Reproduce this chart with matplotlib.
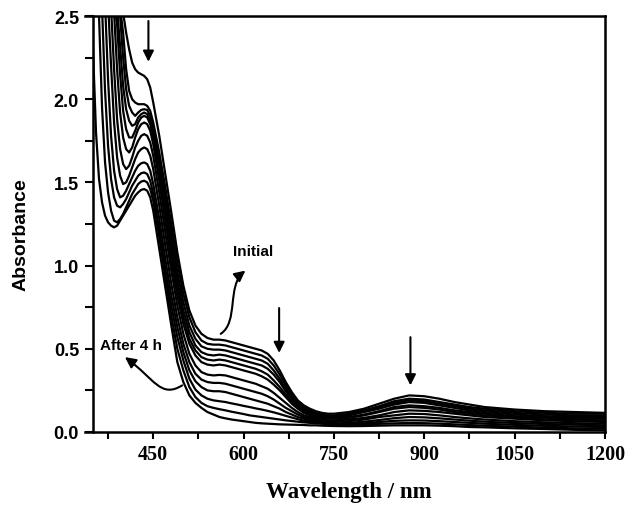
import matplotlib
matplotlib.use("Agg")
import matplotlib.pyplot as plt
from matplotlib.ticker import MultipleLocator, FormatStrFormatter
from matplotlib.patches import FancyArrowPatch
from matplotlib.path import Path

# wavelength grid (nm)
wl = [350, 355, 360, 365, 370, 375, 380, 385, 390, 395, 400, 405, 410, 415, 420, 425, 430, 435, 440, 445,
      450, 460, 470, 480, 490, 500, 510, 520, 530, 540, 550, 560, 570, 580, 590, 600, 610, 620, 630, 640,
      650, 660, 670, 680, 690, 700, 710, 720, 730, 740, 750,
      775, 800, 825, 850, 875, 900, 925, 950, 975, 1000, 1050, 1100, 1150, 1200]

# absorbance, initial spectrum first, "after 4 h" last
s00 = [3.80, 3.60, 3.45, 3.30, 3.15, 3.00, 2.87, 2.76, 2.67, 2.59, 2.52, 2.40, 2.30, 2.22, 2.18, 2.16, 2.15, 2.14, 2.12, 2.07,
       1.98, 1.78, 1.55, 1.32, 1.08, 0.88, 0.73, 0.64, 0.59, 0.565, 0.555, 0.555, 0.55, 0.54, 0.53, 0.52, 0.51, 0.50, 0.49, 0.47,
       0.43, 0.37, 0.30, 0.24, 0.19, 0.16, 0.14, 0.125, 0.115, 0.11, 0.11,
       0.12, 0.14, 0.17, 0.20, 0.22, 0.215, 0.20, 0.18, 0.165, 0.15, 0.135, 0.125, 0.12, 0.115]
s01 = [3.70, 3.55, 3.40, 3.25, 3.10, 2.95, 2.82, 2.71, 2.62, 2.55, 2.40, 2.18, 2.05, 2.00, 1.98, 1.97, 1.97, 1.97, 1.96, 1.93,
       1.86, 1.68, 1.47, 1.25, 1.02, 0.83, 0.69, 0.60, 0.55, 0.53, 0.525, 0.525, 0.52, 0.51, 0.50, 0.49, 0.48, 0.47, 0.46, 0.44,
       0.40, 0.345, 0.28, 0.225, 0.18, 0.15, 0.13, 0.115, 0.105, 0.10, 0.10,
       0.11, 0.13, 0.155, 0.185, 0.20, 0.195, 0.18, 0.165, 0.15, 0.14, 0.125, 0.115, 0.11, 0.11]
s02 = [3.70, 3.50, 3.35, 3.20, 3.05, 2.90, 2.78, 2.67, 2.58, 2.50, 2.25, 2.06, 1.96, 1.92, 1.90, 1.92, 1.935, 1.94, 1.935, 1.90,
       1.83, 1.64, 1.42, 1.19, 0.96, 0.78, 0.64, 0.56, 0.515, 0.50, 0.495, 0.495, 0.49, 0.48, 0.47, 0.46, 0.45, 0.44, 0.43, 0.41,
       0.37, 0.32, 0.26, 0.21, 0.17, 0.14, 0.12, 0.11, 0.10, 0.095, 0.095,
       0.105, 0.125, 0.15, 0.175, 0.19, 0.185, 0.17, 0.155, 0.14, 0.13, 0.115, 0.105, 0.10, 0.10]
s03 = [3.60, 3.45, 3.30, 3.15, 3.00, 2.85, 2.72, 2.62, 2.54, 2.32, 2.08, 1.94, 1.87, 1.84, 1.85, 1.89, 1.91, 1.92, 1.91, 1.87,
       1.80, 1.60, 1.37, 1.13, 0.91, 0.73, 0.60, 0.52, 0.48, 0.465, 0.46, 0.465, 0.46, 0.45, 0.44, 0.43, 0.42, 0.41, 0.40, 0.38,
       0.345, 0.30, 0.245, 0.20, 0.16, 0.13, 0.115, 0.10, 0.095, 0.09, 0.09,
       0.10, 0.12, 0.14, 0.165, 0.18, 0.175, 0.16, 0.145, 0.13, 0.12, 0.105, 0.095, 0.09, 0.09]
s04 = [3.60, 3.40, 3.25, 3.10, 2.95, 2.80, 2.68, 2.58, 2.45, 2.15, 1.93, 1.82, 1.77, 1.77, 1.81, 1.86, 1.89, 1.90, 1.89, 1.85,
       1.77, 1.56, 1.32, 1.08, 0.86, 0.69, 0.56, 0.49, 0.45, 0.435, 0.43, 0.435, 0.43, 0.42, 0.41, 0.40, 0.39, 0.38, 0.365, 0.345,
       0.31, 0.27, 0.225, 0.185, 0.15, 0.125, 0.11, 0.095, 0.09, 0.085, 0.085,
       0.09, 0.105, 0.125, 0.15, 0.16, 0.155, 0.145, 0.13, 0.12, 0.11, 0.095, 0.088, 0.082, 0.08]
s05 = [3.50, 3.35, 3.20, 3.05, 2.90, 2.75, 2.62, 2.52, 2.18, 1.92, 1.77, 1.70, 1.68, 1.71, 1.77, 1.82, 1.85, 1.86, 1.85, 1.81,
       1.73, 1.51, 1.27, 1.03, 0.82, 0.65, 0.53, 0.46, 0.42, 0.405, 0.40, 0.405, 0.40, 0.39, 0.38, 0.37, 0.36, 0.35, 0.335, 0.315,
       0.285, 0.25, 0.21, 0.17, 0.14, 0.115, 0.10, 0.09, 0.085, 0.08, 0.08,
       0.085, 0.10, 0.12, 0.14, 0.15, 0.145, 0.135, 0.12, 0.11, 0.10, 0.088, 0.08, 0.074, 0.07]
s06 = [3.50, 3.30, 3.10, 2.95, 2.80, 2.65, 2.55, 2.18, 1.88, 1.70, 1.61, 1.58, 1.60, 1.65, 1.71, 1.75, 1.78, 1.79, 1.78, 1.74,
       1.66, 1.44, 1.20, 0.97, 0.76, 0.59, 0.47, 0.40, 0.36, 0.345, 0.34, 0.343, 0.34, 0.33, 0.32, 0.31, 0.30, 0.29, 0.275, 0.26,
       0.235, 0.205, 0.175, 0.145, 0.12, 0.10, 0.09, 0.08, 0.075, 0.07, 0.07,
       0.075, 0.085, 0.10, 0.12, 0.13, 0.127, 0.12, 0.11, 0.10, 0.09, 0.08, 0.07, 0.065, 0.06]
s07 = [3.40, 3.20, 3.00, 2.85, 2.70, 2.58, 2.20, 1.86, 1.65, 1.54, 1.49, 1.50, 1.54, 1.59, 1.64, 1.68, 1.70, 1.71, 1.70, 1.66,
       1.58, 1.36, 1.12, 0.89, 0.69, 0.53, 0.42, 0.35, 0.315, 0.30, 0.295, 0.295, 0.29, 0.28, 0.27, 0.26, 0.25, 0.24, 0.23, 0.215,
       0.195, 0.17, 0.145, 0.125, 0.105, 0.09, 0.08, 0.07, 0.065, 0.06, 0.06,
       0.065, 0.075, 0.09, 0.10, 0.11, 0.108, 0.10, 0.09, 0.082, 0.075, 0.065, 0.058, 0.053, 0.05]
s08 = [3.30, 3.10, 2.90, 2.75, 2.58, 2.12, 1.78, 1.57, 1.46, 1.41, 1.42, 1.45, 1.49, 1.53, 1.57, 1.60, 1.615, 1.62, 1.61, 1.57,
       1.49, 1.28, 1.04, 0.82, 0.63, 0.48, 0.37, 0.305, 0.27, 0.25, 0.245, 0.245, 0.24, 0.23, 0.22, 0.21, 0.20, 0.19, 0.18, 0.17,
       0.155, 0.14, 0.12, 0.105, 0.09, 0.08, 0.07, 0.062, 0.057, 0.053, 0.05,
       0.055, 0.062, 0.072, 0.083, 0.09, 0.088, 0.082, 0.075, 0.068, 0.062, 0.054, 0.048, 0.044, 0.04]
s09 = [3.20, 3.00, 2.80, 2.55, 2.05, 1.72, 1.52, 1.41, 1.36, 1.35, 1.37, 1.40, 1.44, 1.48, 1.51, 1.54, 1.555, 1.56, 1.55, 1.51,
       1.43, 1.22, 0.98, 0.76, 0.57, 0.43, 0.32, 0.255, 0.22, 0.20, 0.19, 0.185, 0.18, 0.172, 0.165, 0.157, 0.15, 0.142, 0.135, 0.127,
       0.118, 0.108, 0.097, 0.087, 0.077, 0.068, 0.062, 0.056, 0.052, 0.048, 0.045,
       0.048, 0.053, 0.06, 0.067, 0.07, 0.069, 0.065, 0.06, 0.055, 0.05, 0.043, 0.037, 0.033, 0.03]
s10 = [3.00, 2.80, 2.50, 1.95, 1.62, 1.44, 1.33, 1.27, 1.26, 1.28, 1.31, 1.35, 1.39, 1.43, 1.46, 1.49, 1.505, 1.51, 1.50, 1.46,
       1.39, 1.17, 0.93, 0.70, 0.50, 0.37, 0.27, 0.21, 0.175, 0.155, 0.145, 0.137, 0.13, 0.122, 0.115, 0.108, 0.10, 0.095, 0.09, 0.085,
       0.08, 0.075, 0.07, 0.066, 0.062, 0.058, 0.055, 0.052, 0.05, 0.048, 0.046,
       0.045, 0.046, 0.049, 0.052, 0.054, 0.053, 0.05, 0.046, 0.042, 0.038, 0.032, 0.026, 0.022, 0.02]
s11 = [2.30, 1.80, 1.52, 1.38, 1.30, 1.26, 1.24, 1.23, 1.24, 1.27, 1.30, 1.33, 1.36, 1.39, 1.42, 1.44, 1.455, 1.46, 1.45, 1.41,
       1.33, 1.10, 0.87, 0.64, 0.42, 0.30, 0.22, 0.175, 0.145, 0.12, 0.105, 0.09, 0.082, 0.075, 0.07, 0.065, 0.06, 0.055, 0.052, 0.05,
       0.048, 0.046, 0.045, 0.044, 0.043, 0.042, 0.04, 0.04, 0.038, 0.037, 0.036,
       0.035, 0.036, 0.038, 0.04, 0.04, 0.04, 0.038, 0.035, 0.03, 0.028, 0.022, 0.018, 0.013, 0.01]

spectra = [s00, s01, s02, s03, s04, s05, s06, s07, s08, s09, s10, s11]

sans = "Liberation Sans"
serif = "Liberation Serif"

fig = plt.figure(figsize=(6.28, 5.06), dpi=100)
ax = fig.add_axes([93/628, 73/506, 512/628, 416/506])

for s in spectra:
    ax.plot(wl, s, color="black", lw=1.6)

ax.set_xlim(350, 1200)
ax.set_ylim(0, 2.5)

ax.xaxis.set_major_locator(MultipleLocator(150))
ax.xaxis.set_minor_locator(MultipleLocator(75))
ax.yaxis.set_major_locator(MultipleLocator(0.5))
ax.yaxis.set_minor_locator(MultipleLocator(0.25))
ax.yaxis.set_major_formatter(FormatStrFormatter("%.1f"))

ax.tick_params(axis="both", which="both", direction="out", width=1.5, top=False, right=False)
ax.tick_params(axis="x", which="both", length=5, pad=4)
ax.tick_params(axis="y", which="both", length=6, pad=4)

for lab in ax.get_xticklabels():
    lab.set_fontfamily(serif)
    lab.set_fontweight("bold")
    lab.set_fontsize(14.5)
for lab in ax.get_yticklabels():
    lab.set_fontfamily(sans)
    lab.set_fontweight("bold")
    lab.set_fontsize(13)

for side in ["left", "right", "top", "bottom"]:
    ax.spines[side].set_linewidth(1.8)
ax.spines["bottom"].set_bounds(337, 1200)
ax.spines["top"].set_bounds(337, 1200)

ax.set_xlabel("Wavelength / nm", fontfamily=serif, fontweight="bold", fontsize=16.5)
ax.xaxis.set_label_coords(0.5, -0.118)
ax.set_ylabel("Absorbance", fontfamily=sans, fontweight="bold", fontsize=14)
ax.yaxis.set_label_coords(-0.124, 0.478)

# straight arrows
arrow_kw = dict(arrowstyle="-|>", color="black", lw=1.5, mutation_scale=16, shrinkA=0, shrinkB=0)
ax.annotate("", xy=(442, 2.225), xytext=(442, 2.47), arrowprops=arrow_kw)
ax.annotate("", xy=(659, 0.475), xytext=(659, 0.745), arrowprops=arrow_kw)
ax.annotate("", xy=(877, 0.28), xytext=(877, 0.57), arrowprops=arrow_kw)

# curved arrows
p_init = Path([(562, 0.59), (592, 0.66), (572, 0.88), (603, 0.97)],
              [Path.MOVETO, Path.CURVE4, Path.CURVE4, Path.CURVE4])
ax.add_patch(FancyArrowPatch(path=p_init, arrowstyle="-|>", color="black", lw=1.5, mutation_scale=16))
p_after = Path([(498, 0.28), (462, 0.20), (452, 0.32), (403, 0.45)],
               [Path.MOVETO, Path.CURVE4, Path.CURVE4, Path.CURVE4])
ax.add_patch(FancyArrowPatch(path=p_after, arrowstyle="-|>", color="black", lw=1.5, mutation_scale=16))

ax.text(616, 1.09, "Initial", fontfamily=sans, fontweight="bold", fontsize=11, ha="center", va="center")
ax.text(413, 0.52, "After 4 h", fontfamily=sans, fontweight="bold", fontsize=11, ha="center", va="center")

fig.savefig("out.png", dpi=100)
